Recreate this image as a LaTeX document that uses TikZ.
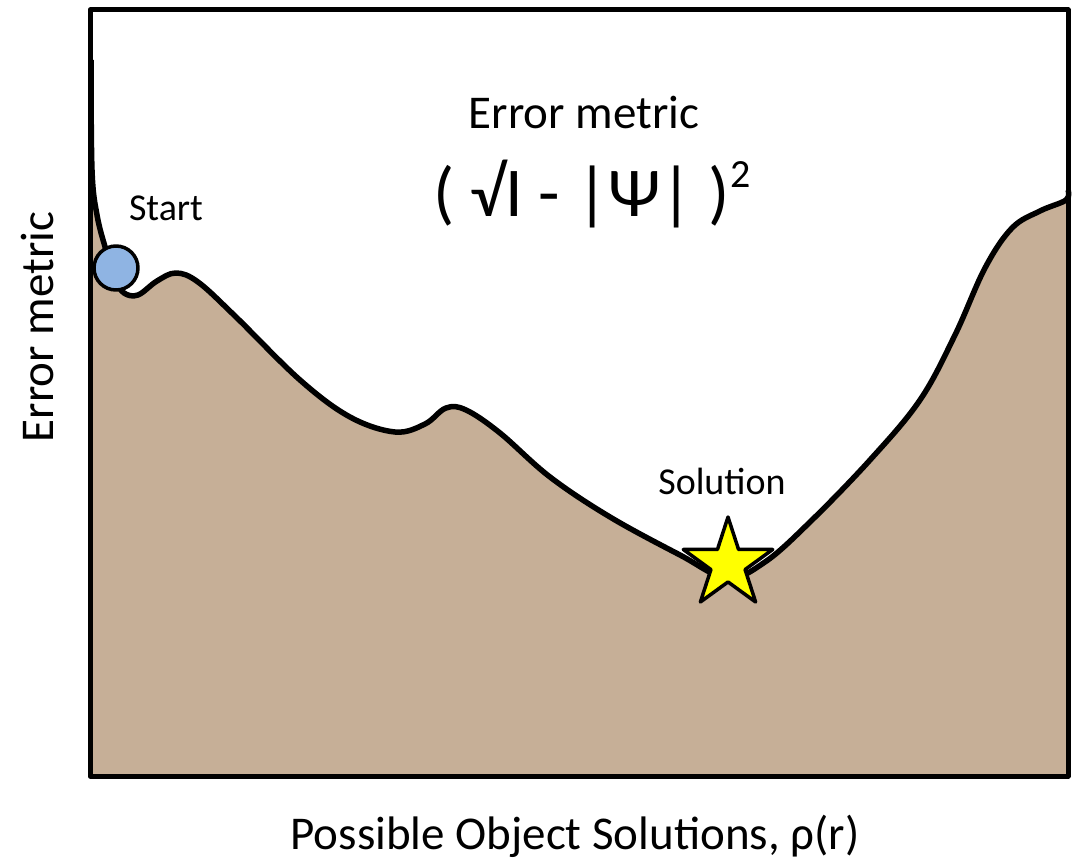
\documentclass[tikz,border=0pt]{standalone}
\usepackage{fontspec}
\setmainfont{Carlito}
\usetikzlibrary{shapes.geometric}
\definecolor{soil}{HTML}{C6AF97}
\definecolor{ball}{HTML}{8FB4E3}
\definecolor{gold}{HTML}{FFFF00}
\tikzset{
  label/.style={font=\fontsize{47}{56}\selectfont, inner sep=0pt},
  small/.style={font=\fontsize{38}{46}\selectfont, inner sep=0pt},
}
\begin{document}
\begin{tikzpicture}[x=1pt, y=-1pt, line join=round]
\useasboundingbox (0,0) rectangle (1076,866);
% error landscape
\def\landscape{(91,60) (92,170) (97,215) (106,250) (116,280) (124,293) (138,295) (157,281) (176,273) (198,282) (235,316) (300,380) (350,417) (395,432) (425,424) (446,408) (466,410) (500,433) (550,477) (610,517) (680,555) (727,578) (765,562) (810,522) (870,460) (920,400) (955,335) (985,268) (1012,228) (1040,211) (1066,200) (1068,190)}
\fill[soil] plot[smooth, tension=0.6] coordinates {\landscape} -- (1068,776) -- (92,776) -- cycle;
\draw[line width=5.5pt] plot[smooth, tension=0.6] coordinates {\landscape};
\draw[line width=5pt] (90,10) rectangle (1068,776);

\node[circle, draw, line width=3.5pt, fill=ball, minimum size=44pt, inner sep=0pt] (start) at (116,268) {};
\node[star, star points=5, star point ratio=2.618, draw, line width=3.5pt, fill=gold, minimum size=94pt, inner sep=0pt] (sol) at (728,564) {};

\node[small] (startlbl) at (166,208) {Start};
\node[small] (sollbl) at (722,481) {Solution};
\node[label] (title) at (584,113) {Error metric};
\node[font=\fontsize{70}{80}\selectfont, inner sep=0pt] (formula) at (592,194) {( √I - |Ψ| )\raisebox{0.42em}{\fontsize{40}{44}\selectfont 2}};
\node[label, rotate=90] (ylbl) at (38,327) {Error metric};
\node[label] (xlbl) at (575,836) {Possible Object Solutions, ρ(r)};
\end{tikzpicture}
\end{document}
